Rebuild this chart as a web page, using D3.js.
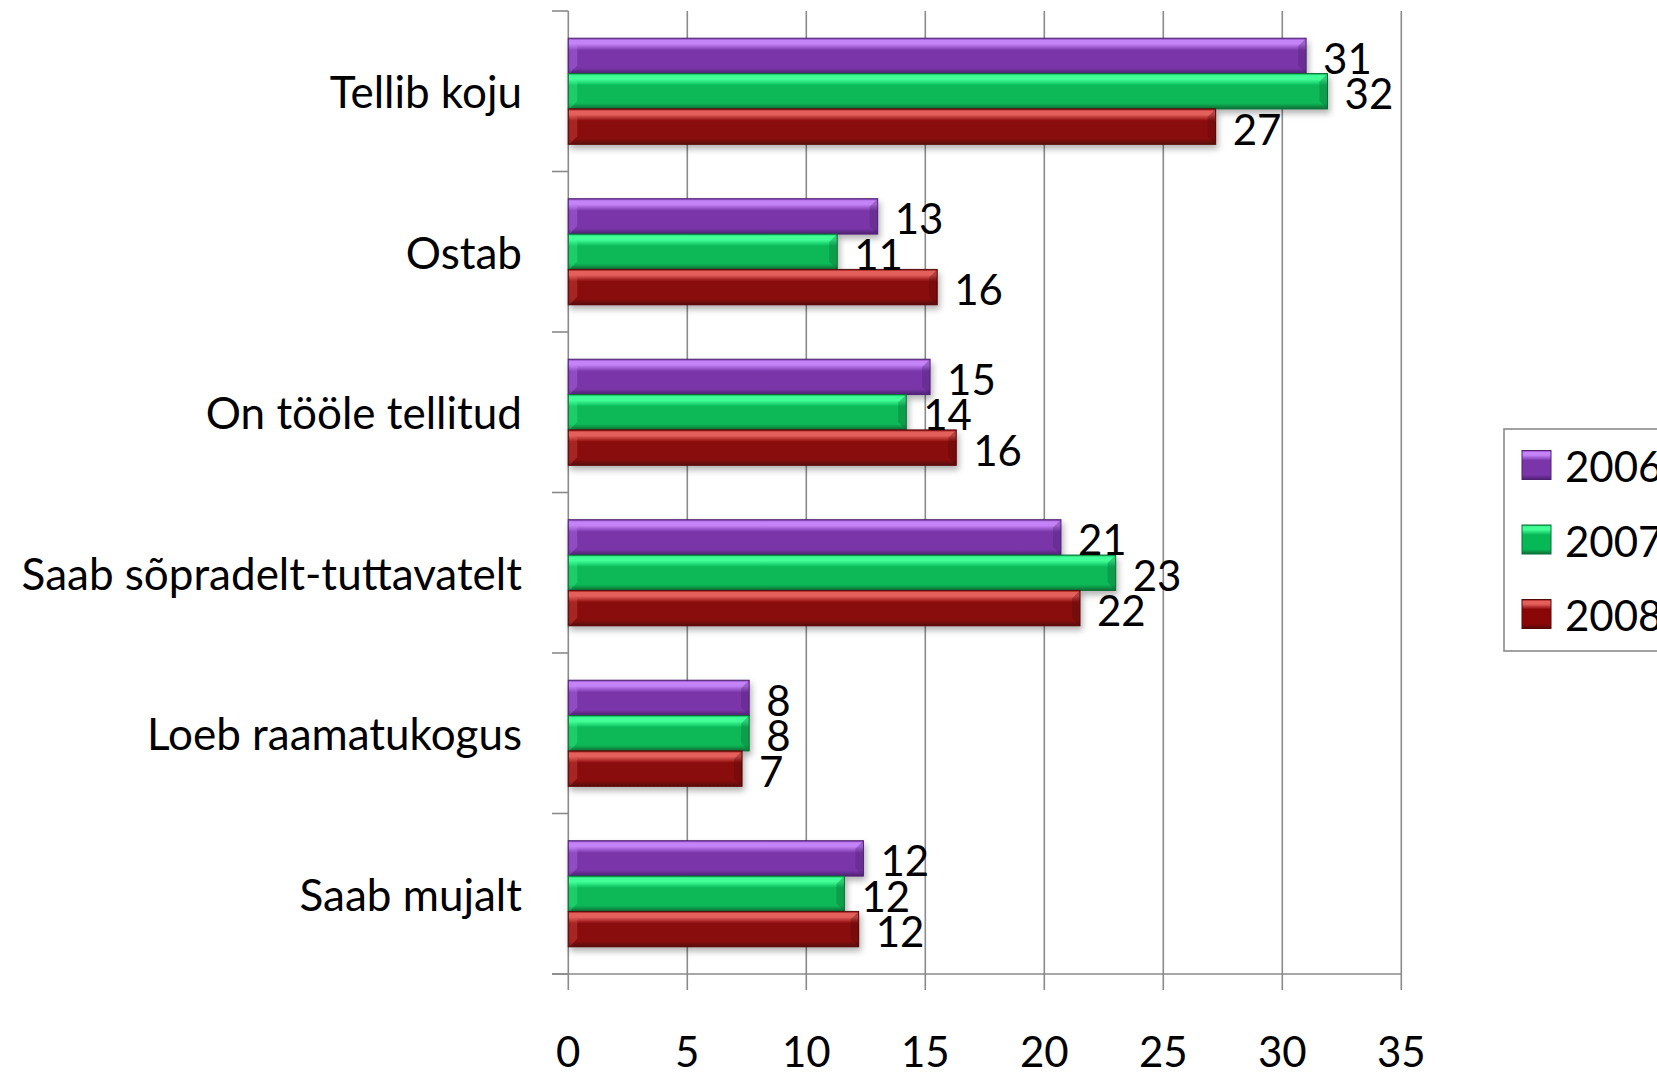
<!DOCTYPE html>
<html><head><meta charset="utf-8">
<script src="https://cdn.jsdelivr.net/npm/d3@7"></script>
<style>html,body{margin:0;padding:0;background:#fff;overflow:hidden}</style>
</head><body>
<svg id="c" width="1657" height="1072"></svg>
<script>
const categories = ["Tellib koju","Ostab","On tööle tellitud","Saab sõpradelt-tuttavatelt","Loeb raamatukogus","Saab mujalt"];
const series = ["2006","2007","2008"];
const values2006 = [31.0, 13.0, 15.2, 20.7, 7.6, 12.4];
const values2007 = [31.9, 11.3, 14.2, 23.0, 7.6, 11.6];
const values2008 = [27.2, 15.5, 16.3, 21.5, 7.3, 12.2];
const labels2006 = ["31","13","15","21","8","12"];
const labels2007 = ["32","11","14","23","8","12"];
const labels2008 = ["27","16","16","22","7","12"];
const xTicks = [0,5,10,15,20,25,30,35];

const seriesValues = [values2006, values2007, values2008];
const seriesLabels = [labels2006, labels2007, labels2008];
const colors = {
  "2006": {hi:"#c483f7", main:"#7a36a9", dark:"#4f2173"},
  "2007": {hi:"#42ff97", main:"#07b857", dark:"#0b6e36"},
  "2008": {hi:"#e4605c", main:"#8a0707", dark:"#560808"}
};
const FONT = "Lato, 'Open Sans', sans-serif";

const svg = d3.select("#c");
const x = d3.scaleLinear().domain([0,35]).range([568.3, 1401.3]);
const y0 = d3.scaleBand().domain(categories).range([11, 974]);
const y1 = d3.scaleBand().domain(series).range([0, y0.bandwidth()]).paddingOuter(0.77);

const defs = svg.append("defs");
series.forEach(s => {
  const g = defs.append("linearGradient").attr("id","g"+s).attr("x1",0).attr("y1",0).attr("x2",0).attr("y2",1);
  const c = colors[s];
  g.append("stop").attr("offset","0%").attr("stop-color",c.main);
  g.append("stop").attr("offset","6%").attr("stop-color",c.hi);
  g.append("stop").attr("offset","16%").attr("stop-color",c.hi);
  g.append("stop").attr("offset","34%").attr("stop-color",c.main);
  g.append("stop").attr("offset","84%").attr("stop-color",c.main);
  g.append("stop").attr("offset","100%").attr("stop-color",c.dark);
});
const f = defs.append("filter").attr("id","sh").attr("x","-5%").attr("y","-20%").attr("width","120%").attr("height","160%");
f.append("feDropShadow").attr("dx",2).attr("dy",4).attr("stdDeviation",3).attr("flood-color","#000").attr("flood-opacity",0.3);

// gridlines
svg.append("g").selectAll("line").data(xTicks).join("line")
  .attr("x1",d=>x(d)).attr("x2",d=>x(d)).attr("y1",11).attr("y2",990)
  .attr("stroke","#8a8a8a").attr("stroke-width",1.6);
// x axis line
svg.append("line").attr("x1",552).attr("x2",x(35)).attr("y1",974).attr("y2",974)
  .attr("stroke","#8a8a8a").attr("stroke-width",1.6);
// category ticks
const bounds = categories.map(c=>y0(c)).concat([974]);
svg.append("g").selectAll("line").data(bounds).join("line")
  .attr("x1",552).attr("x2",x(0)).attr("y1",d=>d).attr("y2",d=>d)
  .attr("stroke","#8a8a8a").attr("stroke-width",1.6);

// bars
const flat = [];
categories.forEach((c,i)=>series.forEach((s,j)=>flat.push({c, s, v:seriesValues[j][i], lab:seriesLabels[j][i]})));
const bars = svg.append("g");
bars.selectAll("rect").data(flat).join("rect")
  .attr("x", x(0)).attr("y", d=>y0(d.c)+y1(d.s))
  .attr("width", d=>x(d.v)-x(0)).attr("height", y1.bandwidth())
  .attr("fill", d=>"url(#g"+d.s+")")
  .attr("stroke", d=>colors[d.s].dark).attr("stroke-width",1)
  .attr("filter","url(#sh)");
// end bevels
bars.selectAll("path.bev").data(flat).join("path").attr("class","bev")
  .attr("d", d=>{
    const xr = x(d.v), yt = y0(d.c)+y1(d.s), h = y1.bandwidth(), b = 8;
    return `M${xr},${yt} L${xr-b},${yt+b} L${xr-b},${yt+h-b} L${xr},${yt+h} Z`;
  })
  .attr("fill", d=>colors[d.s].dark).attr("opacity",0.35);
bars.selectAll("path.bevl").data(flat).join("path").attr("class","bevl")
  .attr("d", d=>{
    const xl = x(0)+1, yt = y0(d.c)+y1(d.s), h = y1.bandwidth(), b = 8;
    return `M${xl},${yt} L${xl+b},${yt+b} L${xl+b},${yt+h-b} L${xl},${yt+h} Z`;
  })
  .attr("fill", d=>colors[d.s].hi).attr("opacity",0.3);

// value labels
svg.append("g").selectAll("text").data(flat).join("text")
  .attr("x", d=>x(d.v)+17).attr("y", d=>y0(d.c)+y1(d.s)+y1.bandwidth()/2+2)
  .attr("dominant-baseline","central")
  .attr("font-family",FONT).attr("font-size",42).attr("fill","#000")
  .text(d=>d.lab);

// category labels
svg.append("g").selectAll("text").data(categories).join("text")
  .attr("x",522).attr("y",d=>y0(d)+y0.bandwidth()/2)
  .attr("text-anchor","end").attr("dominant-baseline","central")
  .attr("font-family",FONT).attr("font-size",44).attr("fill","#000")
  .text(d=>d);

// x tick labels
svg.append("g").selectAll("text").data(xTicks).join("text")
  .attr("x",d=>x(d)).attr("y",1051)
  .attr("text-anchor","middle").attr("dominant-baseline","central")
  .attr("font-family",FONT).attr("font-size",42).attr("fill","#000")
  .text(d=>d);

// legend
const lg = svg.append("g");
lg.append("rect").attr("x",1504).attr("y",429).attr("width",200).attr("height",222)
  .attr("fill","#fff").attr("stroke","#8a8a8a").attr("stroke-width",1.6);
series.forEach((s,i)=>{
  const cy = 465 + i*74.5;
  lg.append("rect").attr("x",1522).attr("y",cy-14.5).attr("width",29).attr("height",29)
    .attr("fill","url(#g"+s+")").attr("stroke",colors[s].dark).attr("stroke-width",1);
  lg.append("text").attr("x",1565).attr("y",cy+1).attr("dominant-baseline","central")
    .attr("font-family",FONT).attr("font-size",42).attr("fill","#000").text(s);
});
</script>
</body></html>
